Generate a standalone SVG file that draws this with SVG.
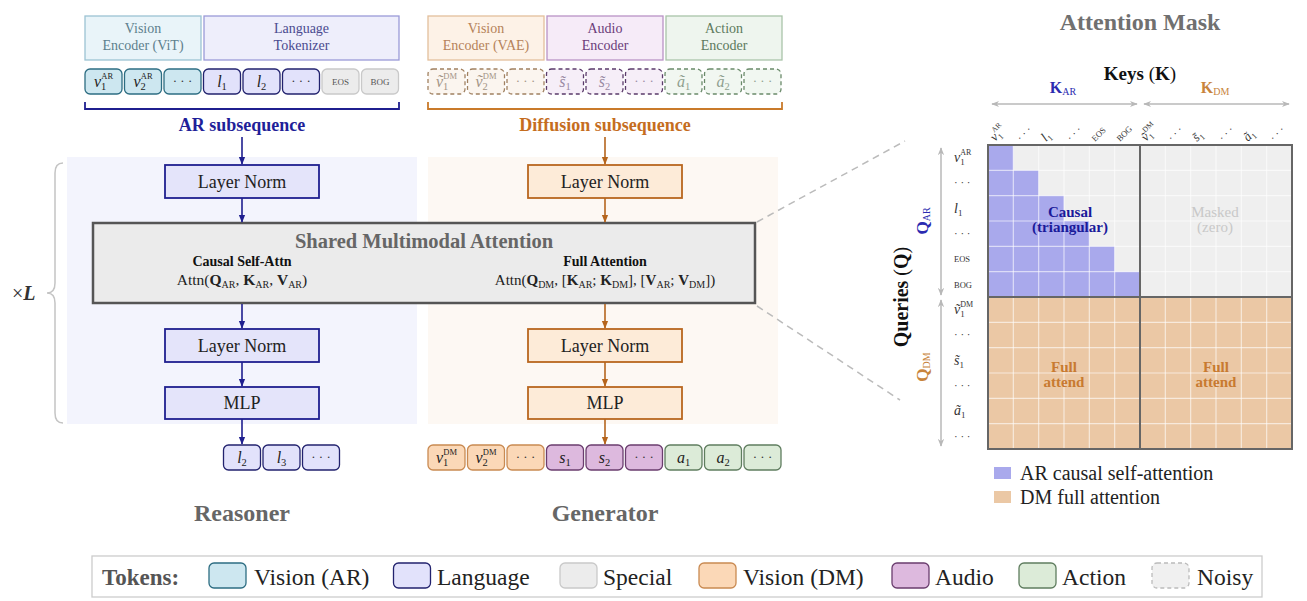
<svg xmlns="http://www.w3.org/2000/svg" width="1307" height="601" viewBox="0 0 1307 601">
<defs>
<style>
text{font-family:"Liberation Serif","DejaVu Serif",serif}
.mi{font-style:italic}
.b{font-weight:bold}
.tk{stroke-width:1.3}
.vAR{fill:#cde7f0;stroke:#2d6d82}
.lng{fill:#e2e2fb;stroke:#22226e}
.spc{fill:#ececec;stroke:#c9c9c9}
.nv{fill:#fbf5ef;stroke:#a08060;stroke-dasharray:4 3}
.na{fill:#f6eef8;stroke:#5a3a6a;stroke-dasharray:4 3}
.nc{fill:#f1f7f1;stroke:#6a8a6a;stroke-dasharray:4 3}
.vDM{fill:#fbd8b7;stroke:#c98a52}
.aud{fill:#ddb9de;stroke:#6a3d6e}
.act{fill:#dcebd8;stroke:#5f7d5f}
.nz{fill:#f0f0f0;stroke:#bbbbbb;stroke-dasharray:4 3}
.tl{font-size:16px;fill:#222}
.tln{font-size:16px}
.sub{font-size:10.5px}
.sup{font-size:8.5px}
.sm{font-size:9px;fill:#555}
.dots{font-size:13px}
.enc{font-size:14px}
.lnL{fill:#e4e4fa;stroke:#1f1f8f;stroke-width:1.8}
.lnR{fill:#fdebd8;stroke:#b9661f;stroke-width:1.8}
.boxt{font-size:18px;fill:#222}
.arL{stroke:#1f1f8f;stroke-width:1.6;fill:none}
.arR{stroke:#b5651d;stroke-width:1.6;fill:none}
.gar{stroke:#b8b8b8;stroke-width:1.5;fill:none}
.grid{stroke:#ffffff;stroke-opacity:0.6;stroke-width:1.2}
.lg{font-size:23.5px;fill:#222}
</style>
<marker id="mL" viewBox="0 0 10 10" refX="9" refY="5" markerWidth="8" markerHeight="8" markerUnits="userSpaceOnUse" orient="auto"><path d="M0,1 L10,5 L0,9 z" fill="#1f1f8f"/></marker>
<marker id="mR" viewBox="0 0 10 10" refX="9" refY="5" markerWidth="8" markerHeight="8" markerUnits="userSpaceOnUse" orient="auto"><path d="M0,1 L10,5 L0,9 z" fill="#b5651d"/></marker>
<marker id="mG" viewBox="0 0 10 10" refX="9" refY="5" markerWidth="8" markerHeight="8" markerUnits="userSpaceOnUse" orient="auto-start-reverse"><path d="M0,1 L10,5 L0,9 L3,5 z" fill="#b8b8b8"/></marker>
</defs>
<rect width="1307" height="601" fill="#ffffff"/>

<!-- background panels -->
<g id="panels">
<rect x="67" y="157" width="350" height="267" fill="#f3f4fd"/>
<rect x="428" y="157" width="350" height="267" fill="#fdf8f3"/>
</g>

<!-- encoders -->
<g id="enc-vit">
<rect x="85" y="16" width="116" height="44" fill="#e9f4f9" stroke="#9cc3d3" stroke-width="1.3"/>
<text class="enc" x="143" y="33" text-anchor="middle" fill="#5d7f8d">Vision</text>
<text class="enc" x="143" y="50" text-anchor="middle" fill="#5d7f8d">Encoder (ViT)</text>
</g>
<g id="enc-lang">
<rect x="204" y="16" width="195" height="44" fill="#eeeefb" stroke="#9a9ad8" stroke-width="1.3"/>
<text class="enc" x="301.5" y="33" text-anchor="middle" fill="#4a4a8f">Language</text>
<text class="enc" x="301.5" y="50" text-anchor="middle" fill="#4a4a8f">Tokenizer</text>
</g>
<g id="enc-vae">
<rect x="428" y="16" width="116" height="44" fill="#fdf2e7" stroke="#e3bf9c" stroke-width="1.3"/>
<text class="enc" x="486" y="33" text-anchor="middle" fill="#b5825a">Vision</text>
<text class="enc" x="486" y="50" text-anchor="middle" fill="#b5825a">Encoder (VAE)</text>
</g>
<g id="enc-audio">
<rect x="547" y="16" width="116" height="44" fill="#f6ebf8" stroke="#b993c5" stroke-width="1.3"/>
<text class="enc" x="605" y="33" text-anchor="middle" fill="#6b3d7a">Audio</text>
<text class="enc" x="605" y="50" text-anchor="middle" fill="#6b3d7a">Encoder</text>
</g>
<g id="enc-action">
<rect x="666" y="16" width="116" height="44" fill="#eef5ee" stroke="#a9c4a9" stroke-width="1.3"/>
<text class="enc" x="724" y="33" text-anchor="middle" fill="#5d7a5d">Action</text>
<text class="enc" x="724" y="50" text-anchor="middle" fill="#5d7a5d">Encoder</text>
</g>

<!-- AR input tokens -->
<g id="ar-tokens">
<rect class="tk vAR" x="85" y="69" width="37" height="25" rx="5"/>
<rect class="tk vAR" x="124.5" y="69" width="37" height="25" rx="5"/>
<rect class="tk vAR" x="164" y="69" width="37" height="25" rx="5"/>
<rect class="tk lng" x="203.5" y="69" width="37" height="25" rx="5"/>
<rect class="tk lng" x="243" y="69" width="37" height="25" rx="5"/>
<rect class="tk lng" x="282.5" y="69" width="37" height="25" rx="5"/>
<rect class="tk spc" x="322" y="69" width="37" height="25" rx="5"/>
<rect class="tk spc" x="361.5" y="69" width="37" height="25" rx="5"/>
<text class="tl" x="103.5" y="87" text-anchor="middle"><tspan class="mi">v</tspan><tspan class="sub" dy="3">1</tspan><tspan class="sup" dx="-5" dy="-11">AR</tspan></text>
<text class="tl" x="143" y="87" text-anchor="middle"><tspan class="mi">v</tspan><tspan class="sub" dy="3">2</tspan><tspan class="sup" dx="-5" dy="-11">AR</tspan></text>
<text class="dots" x="182.5" y="85" text-anchor="middle" fill="#333">· · ·</text>
<text class="tl" x="222" y="87" text-anchor="middle"><tspan class="mi">l</tspan><tspan class="sub" dy="3">1</tspan></text>
<text class="tl" x="261.5" y="87" text-anchor="middle"><tspan class="mi">l</tspan><tspan class="sub" dy="3">2</tspan></text>
<text class="dots" x="301" y="85" text-anchor="middle" fill="#333">· · ·</text>
<text class="sm" x="340.5" y="85" text-anchor="middle">EOS</text>
<text class="sm" x="380" y="85" text-anchor="middle">BOG</text>
<path d="M85 102 V109 H399 V102" fill="none" stroke="#1f1f8f" stroke-width="1.8"/>
<text class="b" x="242" y="131" text-anchor="middle" font-size="18" fill="#1f1f99">AR subsequence</text>
</g>

<!-- DM noisy input tokens -->
<g id="dm-tokens">
<rect class="tk nv" x="428" y="69" width="37" height="25" rx="5"/>
<rect class="tk nv" x="467.5" y="69" width="37" height="25" rx="5"/>
<rect class="tk nv" x="507" y="69" width="37" height="25" rx="5"/>
<rect class="tk na" x="546.5" y="69" width="37" height="25" rx="5"/>
<rect class="tk na" x="586" y="69" width="37" height="25" rx="5"/>
<rect class="tk na" x="625.5" y="69" width="37" height="25" rx="5"/>
<rect class="tk nc" x="665" y="69" width="37" height="25" rx="5"/>
<rect class="tk nc" x="704.5" y="69" width="37" height="25" rx="5"/>
<rect class="tk nc" x="744" y="69" width="37" height="25" rx="5"/>
<text class="tln" x="446.5" y="87" text-anchor="middle" fill="#a39486"><tspan class="mi">ṽ</tspan><tspan class="sub" dy="3">1</tspan><tspan class="sup" dx="-5" dy="-11">DM</tspan></text>
<text class="tln" x="486" y="87" text-anchor="middle" fill="#a39486"><tspan class="mi">ṽ</tspan><tspan class="sub" dy="3">2</tspan><tspan class="sup" dx="-5" dy="-11">DM</tspan></text>
<text class="dots" x="525.5" y="85" text-anchor="middle" fill="#a39486">· · ·</text>
<text class="tln" x="565" y="87" text-anchor="middle" fill="#9a8aa3"><tspan class="mi">s̃</tspan><tspan class="sub" dy="3">1</tspan></text>
<text class="tln" x="604.5" y="87" text-anchor="middle" fill="#9a8aa3"><tspan class="mi">s̃</tspan><tspan class="sub" dy="3">2</tspan></text>
<text class="dots" x="644" y="85" text-anchor="middle" fill="#9a8aa3">· · ·</text>
<text class="tln" x="683.5" y="87" text-anchor="middle" fill="#8f9f8f"><tspan class="mi">ã</tspan><tspan class="sub" dy="3">1</tspan></text>
<text class="tln" x="723" y="87" text-anchor="middle" fill="#8f9f8f"><tspan class="mi">ã</tspan><tspan class="sub" dy="3">2</tspan></text>
<text class="dots" x="762.5" y="85" text-anchor="middle" fill="#8f9f8f">· · ·</text>
<path d="M428 102 V109 H782 V102" fill="none" stroke="#c97a2a" stroke-width="1.8"/>
<text class="b" x="605" y="131" text-anchor="middle" font-size="18" fill="#c56d1e">Diffusion subsequence</text>
</g>

<!-- Reasoner column -->
<g id="ln1-ar"><rect class="lnL" x="165" y="165" width="154" height="33"/><text class="boxt" x="242" y="187.5" text-anchor="middle">Layer Norm</text></g>
<g id="ln2-ar"><rect class="lnL" x="165" y="329" width="154" height="33"/><text class="boxt" x="242" y="351.5" text-anchor="middle">Layer Norm</text></g>
<g id="mlp-ar"><rect class="lnL" x="165" y="387" width="154" height="32"/><text class="boxt" x="242" y="409" text-anchor="middle">MLP</text></g>

<!-- Generator column -->
<g id="ln1-dm"><rect class="lnR" x="528" y="165" width="154" height="33"/><text class="boxt" x="605" y="187.5" text-anchor="middle">Layer Norm</text></g>
<g id="ln2-dm"><rect class="lnR" x="528" y="329" width="154" height="33"/><text class="boxt" x="605" y="351.5" text-anchor="middle">Layer Norm</text></g>
<g id="mlp-dm"><rect class="lnR" x="528" y="387" width="154" height="32"/><text class="boxt" x="605" y="409" text-anchor="middle">MLP</text></g>

<!-- Shared attention -->
<g id="shared-attn">
<rect x="93" y="223" width="662" height="80" fill="#ebebeb" stroke="#555555" stroke-width="2.5"/>
<text class="b" x="424" y="248" text-anchor="middle" font-size="20.5" fill="#666666">Shared Multimodal Attention</text>
<text class="b" x="242" y="266" text-anchor="middle" font-size="14" fill="#111">Causal Self-Attn</text>
<text x="242" y="285" text-anchor="middle" font-size="15.5" fill="#222">Attn(<tspan class="b">Q</tspan><tspan font-size="10" dy="3">AR</tspan><tspan dy="-3">, </tspan><tspan class="b">K</tspan><tspan font-size="10" dy="3">AR</tspan><tspan dy="-3">, </tspan><tspan class="b">V</tspan><tspan font-size="10" dy="3">AR</tspan><tspan dy="-3">)</tspan></text>
<text class="b" x="605" y="266" text-anchor="middle" font-size="14" fill="#111">Full Attention</text>
<text x="605" y="285" text-anchor="middle" font-size="15" fill="#222">Attn(<tspan class="b">Q</tspan><tspan font-size="10" dy="3">DM</tspan><tspan dy="-3">, [</tspan><tspan class="b">K</tspan><tspan font-size="10" dy="3">AR</tspan><tspan dy="-3">; </tspan><tspan class="b">K</tspan><tspan font-size="10" dy="3">DM</tspan><tspan dy="-3">], [</tspan><tspan class="b">V</tspan><tspan font-size="10" dy="3">AR</tspan><tspan dy="-3">; </tspan><tspan class="b">V</tspan><tspan font-size="10" dy="3">DM</tspan><tspan dy="-3">])</tspan></text>
</g>

<!-- layer repeat brace -->
<g id="repeat">
<path d="M63 163 Q55 163 55 173 L55 283 Q55 293 47 293 Q55 293 55 303 L55 413 Q55 423 63 423" fill="none" stroke="#c4c4c4" stroke-width="1.5"/>
<text x="12" y="300" font-size="20" fill="#333">×<tspan class="mi b">L</tspan></text>
</g>

<!-- outputs -->
<g id="ar-out">
<rect class="tk lng" x="223.5" y="445" width="37" height="25" rx="5"/>
<rect class="tk lng" x="263" y="445" width="37" height="25" rx="5"/>
<rect class="tk lng" x="302.5" y="445" width="37" height="25" rx="5"/>
<text class="tl" x="242" y="463" text-anchor="middle"><tspan class="mi">l</tspan><tspan class="sub" dy="3">2</tspan></text>
<text class="tl" x="281.5" y="463" text-anchor="middle"><tspan class="mi">l</tspan><tspan class="sub" dy="3">3</tspan></text>
<text class="dots" x="321" y="461" text-anchor="middle" fill="#333">· · ·</text>
</g>
<g id="dm-out">
<rect class="tk vDM" x="428" y="445" width="37" height="25" rx="5"/>
<rect class="tk vDM" x="467.5" y="445" width="37" height="25" rx="5"/>
<rect class="tk vDM" x="507" y="445" width="37" height="25" rx="5"/>
<rect class="tk aud" x="546.5" y="445" width="37" height="25" rx="5"/>
<rect class="tk aud" x="586" y="445" width="37" height="25" rx="5"/>
<rect class="tk aud" x="625.5" y="445" width="37" height="25" rx="5"/>
<rect class="tk act" x="665" y="445" width="37" height="25" rx="5"/>
<rect class="tk act" x="704.5" y="445" width="37" height="25" rx="5"/>
<rect class="tk act" x="744" y="445" width="37" height="25" rx="5"/>
<text class="tl" x="446.5" y="463" text-anchor="middle"><tspan class="mi">v</tspan><tspan class="sub" dy="3">1</tspan><tspan class="sup" dx="-5" dy="-11">DM</tspan></text>
<text class="tl" x="486" y="463" text-anchor="middle"><tspan class="mi">v</tspan><tspan class="sub" dy="3">2</tspan><tspan class="sup" dx="-5" dy="-11">DM</tspan></text>
<text class="dots" x="525.5" y="461" text-anchor="middle" fill="#333">· · ·</text>
<text class="tl" x="565" y="463" text-anchor="middle"><tspan class="mi">s</tspan><tspan class="sub" dy="3">1</tspan></text>
<text class="tl" x="604.5" y="463" text-anchor="middle"><tspan class="mi">s</tspan><tspan class="sub" dy="3">2</tspan></text>
<text class="dots" x="644" y="461" text-anchor="middle" fill="#333">· · ·</text>
<text class="tl" x="683.5" y="463" text-anchor="middle"><tspan class="mi">a</tspan><tspan class="sub" dy="3">1</tspan></text>
<text class="tl" x="723" y="463" text-anchor="middle"><tspan class="mi">a</tspan><tspan class="sub" dy="3">2</tspan></text>
<text class="dots" x="762.5" y="461" text-anchor="middle" fill="#333">· · ·</text>
</g>

<g id="titles">
<text class="b" x="242" y="521" text-anchor="middle" font-size="24" fill="#666666">Reasoner</text>
<text class="b" x="605" y="521" text-anchor="middle" font-size="24" fill="#666666">Generator</text>
</g>

<!-- connectors -->
<g id="connectors">
<line class="arL" x1="242" y1="137" x2="242" y2="164" marker-end="url(#mL)"/>
<line class="arL" x1="242" y1="198" x2="242" y2="222" marker-end="url(#mL)"/>
<line class="arL" x1="242" y1="304" x2="242" y2="328" marker-end="url(#mL)"/>
<line class="arL" x1="242" y1="362" x2="242" y2="386" marker-end="url(#mL)"/>
<line class="arL" x1="242" y1="419" x2="242" y2="444" marker-end="url(#mL)"/>
<line class="arR" x1="605" y1="137" x2="605" y2="164" marker-end="url(#mR)"/>
<line class="arR" x1="605" y1="198" x2="605" y2="222" marker-end="url(#mR)"/>
<line class="arR" x1="605" y1="304" x2="605" y2="328" marker-end="url(#mR)"/>
<line class="arR" x1="605" y1="362" x2="605" y2="386" marker-end="url(#mR)"/>
<line class="arR" x1="605" y1="419" x2="605" y2="444" marker-end="url(#mR)"/>
<line x1="757" y1="222" x2="905" y2="141" stroke="#bbbbbb" stroke-width="1.5" stroke-dasharray="7 5"/>
<line x1="757" y1="306" x2="900" y2="400" stroke="#bbbbbb" stroke-width="1.5" stroke-dasharray="7 5"/>
</g>

<!-- Attention mask -->
<g id="attention-mask">
<text class="b" x="1140" y="30" text-anchor="middle" font-size="24" fill="#707070">Attention Mask</text>
<text x="1140" y="80" text-anchor="middle" font-size="19" fill="#111"><tspan class="b">Keys </tspan>(<tspan class="b">K</tspan>)</text>
<text x="1063" y="93" text-anchor="middle" font-size="16" fill="#2b2bb0"><tspan class="b">K</tspan><tspan font-size="10" dy="2">AR</tspan></text>
<text x="1215" y="93" text-anchor="middle" font-size="16" fill="#c8843c"><tspan class="b">K</tspan><tspan font-size="10" dy="2">DM</tspan></text>
<line class="gar" x1="992" y1="104" x2="1137" y2="104" marker-start="url(#mG)" marker-end="url(#mG)"/>
<line class="gar" x1="1144" y1="104" x2="1289" y2="104" marker-start="url(#mG)" marker-end="url(#mG)"/>

<!-- column labels -->
<g fill="#333" font-size="13">
<text transform="translate(995,142) rotate(-45)"><tspan class="mi">v</tspan><tspan font-size="8.5" dy="3">1</tspan><tspan font-size="7.5" dx="-4" dy="-10">AR</tspan></text>
<text transform="translate(1021,142) rotate(-45)" font-size="11">· · ·</text>
<text transform="translate(1046,142) rotate(-45)"><tspan class="mi">l</tspan><tspan font-size="8.5" dy="3">1</tspan></text>
<text transform="translate(1071,142) rotate(-45)" font-size="11">· · ·</text>
<text transform="translate(1095,142) rotate(-45)" font-size="8.5">EOS</text>
<text transform="translate(1120,142) rotate(-45)" font-size="8.5">BOG</text>
<text transform="translate(1146,142) rotate(-45)"><tspan class="mi">ṽ</tspan><tspan font-size="8.5" dy="3">1</tspan><tspan font-size="7.5" dx="-4" dy="-10">DM</tspan></text>
<text transform="translate(1172,142) rotate(-45)" font-size="11">· · ·</text>
<text transform="translate(1197,142) rotate(-45)"><tspan class="mi">s̃</tspan><tspan font-size="8.5" dy="3">1</tspan></text>
<text transform="translate(1223,142) rotate(-45)" font-size="11">· · ·</text>
<text transform="translate(1248,142) rotate(-45)"><tspan class="mi">ã</tspan><tspan font-size="8.5" dy="3">1</tspan></text>
<text transform="translate(1274,142) rotate(-45)" font-size="11">· · ·</text>
</g>

<!-- cells -->
<rect x="988" y="145" width="304" height="152" fill="#efefef"/>
<polygon points="988,145 1013.33,145 1013.33,170.33 1038.67,170.33 1038.67,195.67 1064,195.67 1064,221 1089.33,221 1089.33,246.33 1114.67,246.33 1114.67,271.67 1140,271.67 1140,297 988,297" fill="#a9a9ec"/>
<rect x="988" y="297" width="304" height="152" fill="#ebc8a5"/>
<g class="grid">
<line x1="1013.33" y1="145" x2="1013.33" y2="449"/>
<line x1="1038.67" y1="145" x2="1038.67" y2="449"/>
<line x1="1064" y1="145" x2="1064" y2="449"/>
<line x1="1089.33" y1="145" x2="1089.33" y2="449"/>
<line x1="1114.67" y1="145" x2="1114.67" y2="449"/>
<line x1="1165.33" y1="145" x2="1165.33" y2="449"/>
<line x1="1190.67" y1="145" x2="1190.67" y2="449"/>
<line x1="1216" y1="145" x2="1216" y2="449"/>
<line x1="1241.33" y1="145" x2="1241.33" y2="449"/>
<line x1="1266.67" y1="145" x2="1266.67" y2="449"/>
<line x1="988" y1="170.33" x2="1292" y2="170.33"/>
<line x1="988" y1="195.67" x2="1292" y2="195.67"/>
<line x1="988" y1="221" x2="1292" y2="221"/>
<line x1="988" y1="246.33" x2="1292" y2="246.33"/>
<line x1="988" y1="271.67" x2="1292" y2="271.67"/>
<line x1="988" y1="322.33" x2="1292" y2="322.33"/>
<line x1="988" y1="347.67" x2="1292" y2="347.67"/>
<line x1="988" y1="373" x2="1292" y2="373"/>
<line x1="988" y1="398.33" x2="1292" y2="398.33"/>
<line x1="988" y1="423.67" x2="1292" y2="423.67"/>
</g>
<rect x="988" y="145" width="304" height="304" fill="none" stroke="#666666" stroke-width="2"/>
<line x1="1140" y1="145" x2="1140" y2="449" stroke="#666666" stroke-width="2"/>
<line x1="988" y1="297" x2="1292" y2="297" stroke="#666666" stroke-width="2"/>

<text class="b" x="1070" y="217" text-anchor="middle" font-size="15" fill="#1a1a9a">Causal</text>
<text class="b" x="1070" y="232" text-anchor="middle" font-size="15" fill="#1a1a9a">(triangular)</text>
<text x="1215" y="217" text-anchor="middle" font-size="15" fill="#c8c8c8">Masked</text>
<text x="1215" y="232" text-anchor="middle" font-size="15" fill="#c8c8c8">(zero)</text>
<text class="b" x="1064" y="372" text-anchor="middle" font-size="15" fill="#c87a30">Full</text>
<text class="b" x="1064" y="387" text-anchor="middle" font-size="15" fill="#c87a30">attend</text>
<text class="b" x="1216" y="372" text-anchor="middle" font-size="15" fill="#c87a30">Full</text>
<text class="b" x="1216" y="387" text-anchor="middle" font-size="15" fill="#c87a30">attend</text>

<!-- row labels -->
<g fill="#333" font-size="14">
<text x="954" y="162"><tspan class="mi">v</tspan><tspan font-size="9" dy="3">1</tspan><tspan font-size="8" dx="-4.5" dy="-10">AR</tspan></text>
<text x="954" y="186" font-size="11">· · ·</text>
<text x="954" y="212.5"><tspan class="mi">l</tspan><tspan font-size="9" dy="3">1</tspan></text>
<text x="954" y="237" font-size="11">· · ·</text>
<text x="954" y="262" font-size="8.5">EOS</text>
<text x="954" y="287.5" font-size="8.5">BOG</text>
<text x="954" y="314"><tspan class="mi">ṽ</tspan><tspan font-size="9" dy="3">1</tspan><tspan font-size="8" dx="-4.5" dy="-10">DM</tspan></text>
<text x="954" y="338" font-size="11">· · ·</text>
<text x="954" y="364.5"><tspan class="mi">s̃</tspan><tspan font-size="9" dy="3">1</tspan></text>
<text x="954" y="389" font-size="11">· · ·</text>
<text x="954" y="415"><tspan class="mi">ã</tspan><tspan font-size="9" dy="3">1</tspan></text>
<text x="954" y="440" font-size="11">· · ·</text>
</g>
<line class="gar" x1="941" y1="148" x2="941" y2="295" marker-start="url(#mG)" marker-end="url(#mG)"/>
<line class="gar" x1="941" y1="300" x2="941" y2="446" marker-start="url(#mG)" marker-end="url(#mG)"/>
<text transform="translate(928,221) rotate(-90)" text-anchor="middle" font-size="17" fill="#2b2bb0"><tspan class="b">Q</tspan><tspan font-size="10" dy="2">AR</tspan></text>
<text transform="translate(928,367) rotate(-90)" text-anchor="middle" font-size="17" fill="#c8843c"><tspan class="b">Q</tspan><tspan font-size="10" dy="2">DM</tspan></text>
<text transform="translate(908,297) rotate(-90)" text-anchor="middle" font-size="20" fill="#111"><tspan class="b">Queries </tspan>(<tspan class="b">Q</tspan>)</text>

<rect x="994" y="467" width="17" height="12" fill="#a9a9ec"/>
<text x="1020" y="480" font-size="20" fill="#222">AR causal self-attention</text>
<rect x="994" y="491" width="17" height="12" fill="#ebc8a5"/>
<text x="1020" y="504" font-size="20" fill="#222">DM full attention</text>
</g>

<!-- token legend -->
<g id="legend">
<rect x="92" y="556" width="1170" height="41" fill="#ffffff" stroke="#cccccc" stroke-width="1.3"/>
<text class="b" x="102" y="585" font-size="23" fill="#555555">Tokens:</text>
<rect class="tk vAR" x="209" y="563" width="37" height="25" rx="5"/>
<text class="lg" x="254" y="585">Vision (AR)</text>
<rect class="tk lng" x="393.5" y="563" width="37" height="25" rx="5"/>
<text class="lg" x="437" y="585">Language</text>
<rect class="tk spc" x="560" y="563" width="37" height="25" rx="5"/>
<text class="lg" x="603" y="585">Special</text>
<rect class="tk vDM" x="699" y="563" width="37" height="25" rx="5"/>
<text class="lg" x="743" y="585">Vision (DM)</text>
<rect class="tk aud" x="892" y="563" width="37" height="25" rx="5"/>
<text class="lg" x="935" y="585">Audio</text>
<rect class="tk act" x="1019" y="563" width="37" height="25" rx="5"/>
<text class="lg" x="1062" y="585">Action</text>
<rect class="tk nz" x="1152" y="563" width="37" height="25" rx="5"/>
<text class="lg" x="1197" y="585">Noisy</text>
</g>
</svg>
